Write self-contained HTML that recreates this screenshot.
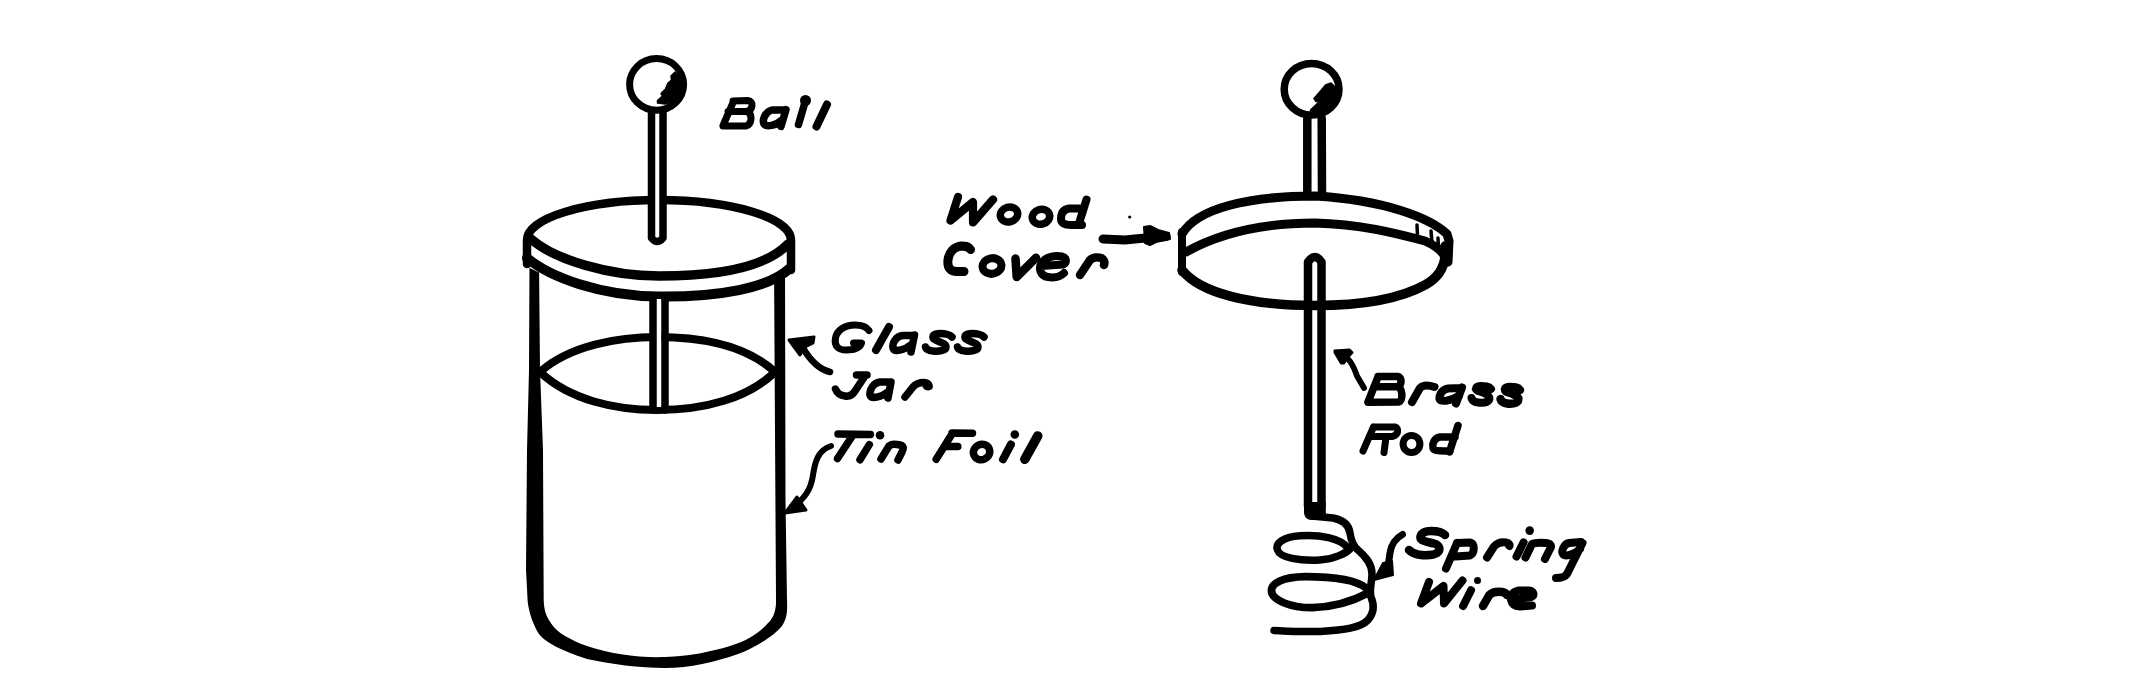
<!DOCTYPE html>
<html><head><meta charset="utf-8">
<style>
html,body{margin:0;padding:0;background:#fff;}
body{width:2136px;height:691px;overflow:hidden;}
svg{display:block;}
</style></head>
<body>
<svg width="2136" height="691" viewBox="0 0 2136 691">
<rect width="2136" height="691" fill="#fff"/>
<g fill="none" stroke="#000" stroke-linecap="round" stroke-linejoin="round">
<!-- LEFT JAR walls -->
<path d="M529.5,262 L529,370 L527,450 L526,570 L527.7,602 C529,612 533,625 539,634 C545,642 560,650 587,659 C610,664 640,668 665,668 C690,668 715,662 738,654 C755,648 775,635 782,626 C787,618 787.5,612 787,600 L785.5,500 L785,262 L774,262 L776,600 C776.5,612 772,620 768,623 C762,630 750,640 730,646 C710,652 690,656 665,657 C640,658 610,654 587,646 C570,640 557,632 553,626 C547,618 544,612 543.7,600 L543,450 L540,370 L539,262 Z" fill="#000" stroke="none"/>
<!-- lid -->
<path d="M526.5,266 L526.5,240 A132.5,40 0 0 1 791.5,240 L791.5,268 C770,284 720,296 659,296 C600,296 550,280 526.5,266 Z" fill="#fff" stroke="none"/>
<path d="M527,264 L527,240 A132,40 0 0 1 791,240 L791,270" stroke-width="8.5"/>
<path d="M531,239 C555,260 610,276 659,276 C715,276 765,268 788,244" stroke-width="9.5"/>
<path d="M527,258 C550,277 600,296 659,296.5 C720,297 768,288 789,269" stroke-width="10"/>
<!-- rod top -->
<path d="M651.5,112 L651.5,238 Q657,245 663,238 L663,112" fill="#fff" stroke-width="7.5"/>
<ellipse cx="656.6" cy="84.4" rx="27" ry="25.8" fill="#fff" stroke-width="7"/>
<path d="M675,72 L671,76 L671.5,80 L668,83 L665.5,89 L661,93.5 L662.5,96 L657.5,100.5 L657.5,103 L665.5,104 L675,100.5 L682,90 L681,78 Z" fill="#000" stroke-width="1.5"/>
<!-- inner rod -->
<!-- liquid ellipse -->
<path d="M540,372 C570,345 620,337 657,337 C705,337 748,347 775,372 C748,398 705,410 657,410 C615,410 570,400 540,372 Z" stroke-width="8"/>
<rect x="656" y="299" width="5.5" height="108" fill="#fff" stroke="none"/>
<path d="M653,299 L653,410 M665,299 L665,410" stroke-width="7.5"/>
<!-- glass arrow -->
<path d="M830,372 C818,369 810,360 803,348" stroke-width="6.5"/>
<path d="M789,340 L814,337 L813,343 L805,347 L800,355 Z" fill="#000" stroke-width="3"/>
<!-- tin foil arrow -->
<path d="M831,446 C818,450 815,462 813,475 C811,490 805,498 790,510" stroke-width="6"/>
<path d="M785,513 L797,497 L806,510 Z" fill="#000" stroke-width="3"/>

<!-- RIGHT APPARATUS -->
<path d="M1307.3,118 L1307.3,196 M1321.7,118 L1322,196" stroke-width="8.5"/>
<ellipse cx="1311.6" cy="89.2" rx="27.4" ry="25.8" fill="#fff" stroke-width="7.5"/>
<path d="M1331,83 L1325.5,85 L1321,90.5 L1314,98.5 L1316,101.5 L1320,101 L1310.5,110 L1312,114 L1334,108 L1338,90 Z" fill="#000" stroke-width="1.5"/>
<!-- cover -->
<path d="M1182,234 C1197,208 1250,196 1315,196 C1385,200 1430,218 1447,234 L1449,241 L1448,262" stroke-width="9"/>
<path d="M1182,270 C1200,293 1250,305.5 1315,305.5 C1370,305.5 1405,296 1425,285 C1438,278 1444,268 1445,256 L1445,246" stroke-width="9.5"/>
<path d="M1182,232 L1182,272" stroke-width="8"/>
<path d="M1186,252 C1220,233 1265,223 1315,223 C1360,224 1395,233 1425,241 C1434,245 1440,249 1444,255" stroke-width="9"/>
<path d="M1417,225 L1417.5,236 M1431,231 L1432,243 M1438,238 L1438.5,250" stroke-width="3.5"/>
<!-- brass rod -->
<path d="M1308,506 L1308,262 Q1315,252 1321.5,262 L1321.5,506" stroke-width="8.5"/>
<path d="M1304,502 L1304,512 C1304,517 1307,520 1312,520 L1325.8,520 L1325.8,502 Z" fill="#000" stroke="none"/>
<!-- spring -->
<path d="M1312,516 L1333,518 C1343,520 1349,525 1350,533 C1351,540 1353,546 1358,550 C1366,557 1372,564 1372,574 C1372,582 1369,590 1371,597 C1374,604 1375,612 1368,620 C1360,628 1345,630 1320,631.5 C1300,632 1285,631 1274,630.5" stroke-width="7.5"/>
<path d="M1348,548 C1340,538 1320,534.5 1300,535.8 C1282,537 1275,544 1277.5,550 C1280,558 1300,561 1320,560 C1335,559 1346,553 1350,549" stroke-width="7.5"/>
<path d="M1366,588 C1355,579 1330,576.6 1305,576.6 C1283,577 1271,583 1271.5,591 C1272,600 1290,607.7 1312,607.7 C1335,607 1355,600 1368,593" stroke-width="7.8"/>
<!-- wood arrow -->
<path d="M1103,239 L1125,240 L1140,238.5 L1166,236.5" stroke-width="9"/>
<path d="M1144,227 L1150,226 L1158,230 L1169,233 L1170,239 L1156,242 L1150,245 L1145,243 Z" fill="#000" stroke-width="2"/>
<circle cx="1129.7" cy="217" r="1.6" fill="#000" stroke="none"/>
<!-- brass arrow -->
<path d="M1364,388 L1357,376 C1354,368 1353,364 1348,359" stroke-width="5.8"/>
<path d="M1334.5,350.5 L1349.5,349.5 L1352.5,352.5 L1348.5,357 L1344,363.5 L1341,363.5 L1334.5,352.5 Z" fill="#000" stroke-width="2"/>
<!-- spring arrow -->
<path d="M1402.5,534.5 C1396,538 1391,545 1390,553 C1389,560 1388.5,565 1387,570" stroke-width="7"/>
<path d="M1374,580 L1383,563 L1392,561 L1393,575 Z" fill="#000" stroke-width="2"/>
</g>
<g fill="none" stroke="#000" stroke-linecap="round" stroke-linejoin="round" stroke-width="7.5">
<!-- Ball -->
<path d="M733,101 L748,100.5 C754,101 753,110 747,111.5 L728,111.5 M747,111.5 C753,114 752,125 746,126 L723,126 M733.5,101.5 L723,125.5" stroke-width="7"/>
<path d="M784,110 L772,110 C765,112 762,120 764,124 C766,127 776,126 782,120 M786,109.5 L781,126.5"/>
<path d="M805.5,100.5 L798.5,124.5" stroke-width="7.5"/>
<circle cx="805.5" cy="100.5" r="5.5" fill="#000" stroke="none"/>
<path d="M827,104.5 L816.5,126.5" stroke-width="8"/>
<!-- Glass -->
<path d="M869,330.5 C866,326 861,325 855,325 C845,325 837,330 835.5,338 C834,346 838,350 846,350 C855,350 860,348 861.5,343 L853.5,343" stroke-width="7"/>
<path d="M889,327 L876,350" stroke-width="8"/>
<path d="M913,335.5 L903,335.5 C896,336 892,343 893,348 C894,352 904,351 912,344 M914.5,335 L911,352"/>
<path d="M952,337 C949,334 945,333.5 940,333.5 C934,333.5 931,336 934,339 C938,342 946,343 946,347 C946,351 938,351.5 933,351 C929,350.5 926,349 925.5,347"/>
<path d="M984,337 C981,334 977,333.5 972,333.5 C966,333.5 963,336 966,339 C970,342 978,343 978,347 C978,351 970,351.5 965,351 C961,350.5 958,349 957.5,347"/>
<!-- Jar -->
<path d="M856.5,375 L867,375 M865,376 L855,391 C852,396 848,396.5 845,396 C840,395.5 837,393 835.5,389"/>
<path d="M889,382 L880,382 C873,383 869.5,390 870,395 C871,399 881,398 889,391 M891,382 L888,398"/>
<path d="M905,397 L913,387 C916,383.5 920,382.5 924,382.5 C927,382.5 928.5,384 929,386.5"/>
<circle cx="927.5" cy="385.5" r="5" fill="#000" stroke="none"/>
<!-- Tin Foil -->
<path d="M838,434 L870.5,434.5 M852,436.5 L837.5,458.5"/>
<circle cx="880" cy="435.2" r="4.3" fill="#000" stroke="none"/>
<path d="M869.3,444.6 L860,459.8"/>
<path d="M881,459 L889,446 C891,444 896,444 900,445 C904,446 904,449 902,452 L898,460"/>
<path d="M952,433 L972.5,433.3 M952,434 L936.2,459.3 M945,446.5 L957.8,446.5"/>
<ellipse cx="981.6" cy="452" rx="8.3" ry="7.6" transform="rotate(-25 981.6 452)"/>
<circle cx="1014.8" cy="434.5" r="4.3" fill="#000" stroke="none"/>
<path d="M1010.9,444.5 L1003,459.3" stroke-width="8"/>
<path d="M1037.8,435.9 L1024.8,459.3" stroke-width="9.5"/>
<!-- Wood -->
<path d="M958,197 L950.5,220.5 L973,202 L973,222.5 L993,199.5" stroke-width="8.2"/>
<ellipse cx="1009" cy="214.5" rx="8.8" ry="7.4" transform="rotate(-15 1009 214.5)" stroke-width="7.5"/>
<ellipse cx="1041" cy="216.8" rx="8.8" ry="7.4" transform="rotate(-15 1041 216.8)" stroke-width="7.5"/>
<path d="M1081,208.5 L1069,208.5 C1063,209.5 1061,214 1061,219 C1061,224 1066,225 1072,225 L1082,225 M1086.5,199.5 L1078.5,225" stroke-width="8"/>
<!-- Cover -->
<path d="M970.5,249.5 C968,246 965,246 961,246 C954,247 949,252 948,260 C947,268 951,271.5 957,271.5 L964,271.5" stroke-width="9"/>
<ellipse cx="992" cy="266" rx="9.5" ry="7.8" transform="rotate(-10 992 266)" stroke-width="8"/>
<path d="M1015.5,258.6 L1016.7,277 L1036,257.7" stroke-width="8.5"/>
<path d="M1041,266 L1063,264.5 C1067,263 1067,258 1062,256.5 C1055,255 1046,257 1042,262 C1038,268 1040,276 1048,277 C1054,278 1060,277 1064,273" stroke-width="8"/>
<path d="M1080,275 L1090,260 C1093,257 1098,257 1101,258 C1104,259 1105,262 1104,265" stroke-width="8.5"/>
<!-- Brass -->
<path d="M1378,376.5 L1398,376.5 C1402,377 1402,385 1398,386.5 L1374,386.7 M1398,387 C1403,389 1403,400 1399,402 L1368,402.3 M1378,377 L1368,402" stroke-width="7.5"/>
<path d="M1412,402 L1420,388 C1423,385 1429,385 1434.5,387" stroke-width="8"/>
<path d="M1461,388 L1448,388.5 C1442,389.5 1439,395 1439.5,399 C1440.5,402 1450,401.5 1459,396 M1462,387.5 L1456,403.5" stroke-width="8"/>
<path d="M1491,389 C1489,386 1485,386 1481,386 C1476,386 1474,389 1478,391 C1484,393 1491,395 1489,400 C1487,403 1482,403 1478,402.5 C1474,402 1472,400 1471.5,398" stroke-width="8"/>
<path d="M1520,390 C1518,387 1514,387 1510,387 C1505,387 1503,390 1507,392 C1513,394 1520,396 1518,401 C1516,404 1511,404 1507,403.5 C1503,403 1501,401 1500.5,399" stroke-width="8.5"/>
<!-- Rod -->
<path d="M1373.5,427 L1395,427 C1399,428 1399,435 1392,436.5 L1371,436.5 M1373.5,427 L1363,451 M1386,437 L1384,452.5" stroke-width="7"/>
<ellipse cx="1411.5" cy="444" rx="8.4" ry="8.6" stroke-width="7"/>
<path d="M1455,437 L1440,437 C1434,438 1432,444 1433,448 C1434,451 1440,451 1450,451 M1458,425.5 L1449.5,452" stroke-width="7.5"/>
<!-- Spring -->
<path d="M1445,535 C1442,532 1437,531 1431,531 C1424,531 1420,534 1420.5,538 C1421,541 1428,542 1434,543.5 C1440,545 1441,550 1437,553 C1433,555.5 1424,555.5 1418,554.5 C1413,553.5 1410,551 1409,550" stroke-width="8.5"/>
<path d="M1457,543 L1446,568.5 M1457,543 L1470,542.5 C1475,543 1475,553 1470,555.5 L1455,556.5" stroke-width="8"/>
<path d="M1487,557.5 L1494,546.5 C1497,543 1502,542 1506,542.5 C1509,543 1510,545 1509.5,546" stroke-width="8"/>
<circle cx="1529.7" cy="530.6" r="4.3" fill="#000" stroke="none"/>
<path d="M1523.6,542.3 L1516.5,556.5" stroke-width="8"/>
<path d="M1525.5,557.5 L1532,544 C1534,543 1540,542.5 1546,543 C1551,543.5 1552,546 1550,549 L1545,559" stroke-width="8"/>
<path d="M1581,542 L1569,543 C1564,544 1561,551 1563,554 C1565,557 1574,555 1580,549 M1582.5,543 L1567,574 C1565,577 1560,578 1556,578" stroke-width="8"/>
<!-- Wire -->
<path d="M1429,582 L1421,603.5 L1443.5,586 L1444,603.5 L1462.5,580.5" stroke-width="8"/>
<circle cx="1477.5" cy="580.5" r="3.5" fill="#000" stroke="none"/>
<path d="M1471,590.3 L1463.1,606" stroke-width="8"/>
<path d="M1483,606 L1489,595.5 C1492,592 1497,591.5 1502,592 C1505,592.5 1507,594 1507,595" stroke-width="8.5"/>
<path d="M1512,600 L1531,597 C1534.5,595.5 1534.5,591.5 1529,590.5 L1519,590.5 C1513,591.5 1510,595.5 1511,600 C1512,604.5 1515,606.5 1520,606.5 L1532,605.5" stroke-width="8"/>
</g>
</svg>
</body></html>
